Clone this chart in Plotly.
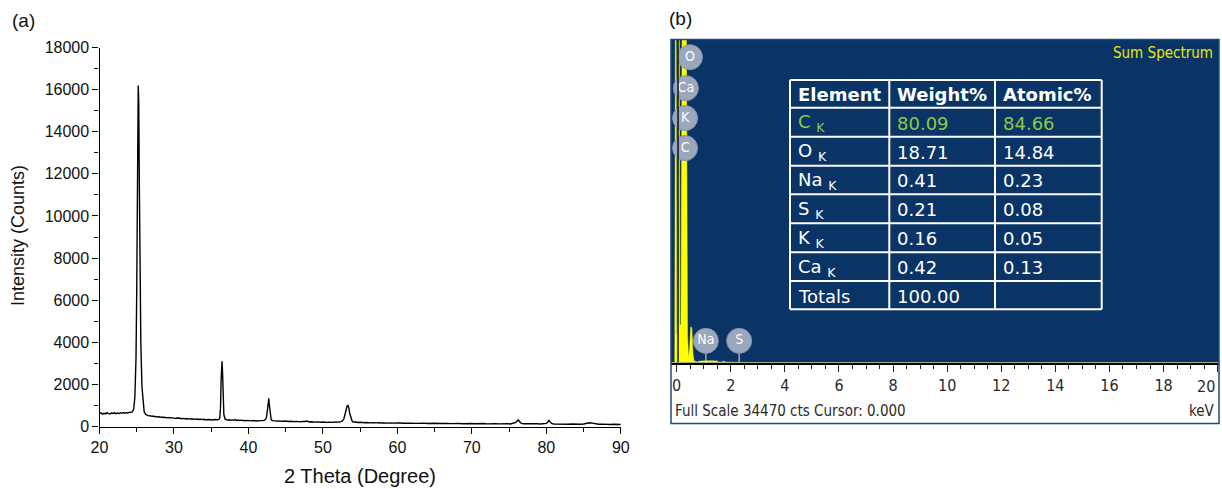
import plotly.graph_objects as go

W, H = 1222, 489

# ---------------- (a) XRD data ----------------
two_theta = [
    20.0, 20.2, 20.4, 20.6, 20.8, 21.0, 21.2, 21.4, 21.6, 21.8, 22.0, 22.2, 22.4, 22.6, 22.8, 23.0, 23.2, 23.4,
    23.6, 23.8, 24.0, 24.2, 24.4,
    24.6, 24.75, 24.9, 25.0, 25.08, 25.15, 25.2, 25.27, 25.35, 25.45, 25.55, 25.7, 25.85, 26.0, 26.2,
    26.4, 26.6, 26.8, 27.0, 27.2, 27.4, 27.6, 27.8, 28.0, 28.2, 28.4, 28.6, 28.8, 29.0, 29.2, 29.4, 29.6, 29.8,
    30.0, 30.2, 30.4, 30.6, 30.8, 31.0, 31.2, 31.4, 31.6, 31.8, 32.0, 32.2, 32.4, 32.6, 32.8, 33.0, 33.2, 33.4,
    33.6, 33.8, 34.0, 34.2, 34.4, 34.6, 34.8, 35.0, 35.2, 35.4, 35.6, 35.8, 36.0,
    36.15, 36.25, 36.33, 36.45, 36.52, 36.6, 36.7, 36.85,
    37.0, 37.2, 37.4, 37.6, 37.8, 38.0, 38.2, 38.4, 38.6, 38.8, 39.0, 39.2, 39.4, 39.6, 39.8, 40.0, 40.2, 40.4,
    40.6, 40.8, 41.0, 41.2, 41.4, 41.6, 41.8, 42.0, 42.2,
    42.4, 42.55, 42.65, 42.73, 42.8, 42.9, 43.05,
    43.2, 43.4, 43.6, 43.8, 44.0, 44.2, 44.4, 44.6, 44.8, 45.0, 45.2, 45.4, 45.6, 45.8, 46.0, 46.2, 46.4, 46.6,
    46.8, 47.0, 47.2, 47.4, 47.6, 47.8, 48.0, 48.2, 48.4, 48.6, 48.8, 49.0, 49.2, 49.4, 49.6, 49.8, 50.0, 50.2,
    50.4, 50.6, 50.8, 51.0, 51.2, 51.4, 51.6, 51.8, 52.0, 52.2, 52.4,
    52.6, 52.8, 52.95, 53.1, 53.25, 53.38, 53.48, 53.6, 53.75, 53.9, 54.0,
    54.2, 54.4, 54.6, 54.8, 55.0, 55.2, 55.4, 55.6, 55.8, 56.0, 56.2, 56.4, 56.6, 56.8, 57.0, 57.2, 57.4, 57.6,
    57.8, 58.0, 58.2, 58.4, 58.6, 58.8, 59.0, 59.2, 59.4, 59.6, 59.8, 60.0,
    60.4, 60.8, 61.2, 61.6, 62.0, 62.4, 62.8, 63.2, 63.6, 64.0, 64.4, 64.8, 65.2, 65.6, 66.0, 66.4, 66.8, 67.2,
    67.6, 68.0, 68.4, 68.8, 69.2, 69.6, 70.0, 70.4, 70.8, 71.2, 71.6, 72.0, 72.4, 72.8, 73.2, 73.6, 74.0, 74.4,
    74.8, 75.2, 75.6, 75.9, 76.1, 76.25, 76.4, 76.6, 76.9, 77.2, 77.6, 78.0, 78.4, 78.8, 79.2, 79.6, 80.0, 80.2,
    80.35, 80.5, 80.7, 81.0, 81.4, 81.8, 82.2, 82.6, 83.0, 83.4, 83.8, 84.2, 84.6, 85.0, 85.4, 85.8, 86.2, 86.6,
    87.0, 87.4, 87.8, 88.2, 88.6, 89.0, 89.4, 89.8, 90.0,
]
intensity = [
    610, 650, 590, 630, 600, 655, 615, 590, 640, 620, 660, 605, 640, 615, 650, 625, 665, 630,
    655, 640, 680, 660, 700,
    830, 1400, 3200, 6500, 10500, 14200, 16200, 15400, 11500, 7200, 4000, 1900, 1050, 700, 570,
    530, 505, 515, 480, 495, 465, 478, 450, 462, 435, 452, 425, 440, 412, 430, 405, 420, 396,
    410, 385, 402, 378, 392, 370, 386, 362, 378, 356, 372, 350, 366, 344, 360, 338, 354, 332,
    348, 326, 342, 320, 336, 316, 332, 312, 328, 310, 330, 318, 335,
    400, 900, 2200, 3100, 2600, 1200, 560, 360,
    330, 305, 320, 298, 314, 292, 330, 288, 306, 284, 300, 280, 296, 276, 292, 272, 288, 268,
    284, 266, 280, 262, 278, 268, 282, 280, 310,
    400, 780, 1250, 1340, 1050, 580, 330,
    280, 262, 276, 256, 268, 250, 264, 246, 258, 242, 254, 238, 250, 234, 246, 230, 242, 226,
    238, 222, 234, 220, 238, 262, 228, 214, 228, 210, 224, 208, 220, 206, 217, 203, 214, 200,
    212, 198, 210, 196, 210, 196, 212, 200, 216, 210, 228,
    260, 350, 530, 810, 975, 1000, 890, 630, 400, 280, 225,
    210, 195, 205, 188, 200, 183, 196, 180, 192, 177, 188, 174, 185, 172, 182, 170, 179, 167,
    176, 165, 174, 163, 172, 161, 170, 160, 168, 158, 167, 156,
    166, 154, 164, 151, 162, 149, 160, 147, 158, 145, 156, 143, 154, 141, 152, 139, 150, 137,
    148, 135, 146, 133, 144, 131, 142, 129, 140, 128, 139, 126, 137, 125, 136, 124, 135, 122,
    134, 121, 140, 190, 270, 310, 240, 155, 128, 132, 120, 130, 118, 128, 116, 126, 145, 215,
    290, 230, 148, 122, 113, 124, 110, 121, 108, 119, 106, 117, 104, 120, 148, 178, 162, 128,
    105, 114, 100, 111, 97, 107, 94, 102, 96,
]
assert len(two_theta) == len(intensity), (len(two_theta), len(intensity))

xrd_xticks = [20, 30, 40, 50, 60, 70, 80, 90]
xrd_yticks = [0, 2000, 4000, 6000, 8000, 10000, 12000, 14000, 16000, 18000]

# ---------------- (b) EDS data ----------------
eds_energy = [-0.21, -0.07, -0.05, -0.02, 0.0, 0.03, 0.05, 0.1, 0.12, 0.16, 0.2, 0.36, 0.4, 0.44, 0.48,
              0.52, 0.56, 0.6, 0.64, 0.75, 0.85, 1.04, 1.2, 1.5, 1.55, 1.7, 1.74, 1.78, 2.0, 2.31, 2.45, 20.05]
eds_counts = [0, 0, 34470, 34470, 3000, 3000, 34470, 34470, 4000, 4000, 34470, 34470, 3000, 500, 1500,
              3800, 3700, 1000, 200, 60, 150, 200, 190, 170, 50, 60, 180, 60, 40, 60, 0, 0]
assert len(eds_energy) == len(eds_counts)
full_scale = 34470
cursor_kev = 0.05
eds_xticks = [0, 2, 4, 6, 8, 10, 12, 14, 16, 18, 20]

peak_labels = ["O", "Ca", "K", "C", "Na", "S"]
peak_label_kev = [0.49, 0.34, 0.31, 0.31, 1.08, 2.31]
peak_label_counts = [32580, 29280, 26080, 22880, 2310, 2310]
peak_label_stem = [False, False, False, False, True, True]

table_elements = ["C", "O", "Na", "S", "K", "Ca"]
table_weight = ["80.09", "18.71", "0.41", "0.21", "0.16", "0.42"]
table_atomic = ["84.66", "14.84", "0.23", "0.08", "0.05", "0.13"]
table_total = "100.00"

# ---------------- helpers ----------------
def px(x):
    return x / W

def py(y):
    return 1 - y / H

DARK = "#0a3466"
NARROW = "Liberation Sans Narrow, DejaVu Sans Condensed, Arial Narrow, sans-serif"
TBLFONT = "DejaVu Sans, sans-serif"
ARIAL = "Liberation Sans, Arial, sans-serif"

fig = go.Figure()

fig.add_trace(go.Scatter(x=two_theta, y=intensity, mode="lines",
                         line=dict(color="black", width=1.4), xaxis="x", yaxis="y",
                         showlegend=False, hoverinfo="skip"))

fig.add_trace(go.Scatter(x=eds_energy, y=eds_counts, mode="lines", fill="tozeroy",
                         fillcolor="#ffff00", line=dict(color="#ffff00", width=0.5),
                         xaxis="x2", yaxis="y2", showlegend=False, hoverinfo="skip"))

fig.add_trace(go.Scatter(x=peak_label_kev, y=peak_label_counts, mode="markers+text",
                         text=peak_labels, textposition="middle center",
                         textfont=dict(family=NARROW, size=14, color="white"),
                         marker=dict(size=25, color="#9ba7bd", line=dict(width=1, color="#8893aa")),
                         xaxis="x2", yaxis="y2", showlegend=False, hoverinfo="skip"))

shapes = []
annotations = []

# panel b frame and background
box_l, box_r, box_t, plot_b, box_b = 671, 1219, 39.5, 362.5, 423.5
shapes.append(dict(type="rect", xref="paper", yref="paper", x0=px(box_l), x1=px(box_r),
                   y0=py(plot_b), y1=py(box_t), fillcolor=DARK, line=dict(width=0), layer="below"))
shapes.append(dict(type="rect", xref="paper", yref="paper", x0=px(box_l), x1=px(box_r),
                   y0=py(box_b), y1=py(box_t), fillcolor="rgba(0,0,0,0)",
                   line=dict(color="#1d4a80", width=1.5), layer="above"))

# cursor line
shapes.append(dict(type="line", xref="x2", yref="y2", x0=cursor_kev, x1=cursor_kev, y0=0, y1=full_scale,
                   line=dict(color="#111111", width=1.5), layer="above"))

# stems for labels
for k, c, s in zip(peak_label_kev, peak_label_counts, peak_label_stem):
    if s:
        shapes.append(dict(type="line", xref="x2", yref="y2", x0=k, x1=k, y0=0, y1=c,
                           line=dict(color="#9ba7bd", width=1.5), layer="below"))

# table
col_x = [790, 889.3, 995, 1101.7]
row_y = [80, 107.7, 136.7, 165.7, 194.3, 223.3, 252.3, 281, 309.3]
for xv in col_x:
    shapes.append(dict(type="line", xref="paper", yref="paper", x0=px(xv), x1=px(xv),
                       y0=py(row_y[0]), y1=py(row_y[-1]), line=dict(color="white", width=2)))
for yv in row_y:
    shapes.append(dict(type="line", xref="paper", yref="paper", x0=px(col_x[0]), x1=px(col_x[-1]),
                       y0=py(yv), y1=py(yv), line=dict(color="white", width=2)))

def cell(text, ci, ri, color="white", bold=False):
    t = f"<b>{text}</b>" if bold else text
    annotations.append(dict(x=px(col_x[ci] + 6), y=py((row_y[ri] + row_y[ri + 1]) / 2 + 1),
                            xref="paper", yref="paper", xanchor="left", yanchor="middle",
                            text=t, showarrow=False,
                            font=dict(family=TBLFONT, size=18, color=color)))

cell("Element", 0, 0, bold=True)
cell("Weight%", 1, 0, bold=True)
cell("Atomic%", 2, 0, bold=True)
for i, (e, w, a) in enumerate(zip(table_elements, table_weight, table_atomic)):
    col = "#8fc846" if i == 0 else "white"
    cell(f"{e} <sub>K</sub>", 0, i + 1, col)
    cell(w, 1, i + 1, col)
    cell(a, 2, i + 1, col)
cell("Totals", 0, 7)
cell(table_total, 1, 7)

# panel b texts
annotations.append(dict(x=px(1215), y=py(53), xref="paper", yref="paper", xanchor="right",
                        yanchor="middle", text="Sum Spectrum", showarrow=False,
                        font=dict(family=NARROW, size=15, color="#e8e800")))
annotations.append(dict(x=px(673), y=py(411), xref="paper", yref="paper", xanchor="left",
                        yanchor="middle", text=f"Full Scale {full_scale} cts Cursor: 0.000",
                        showarrow=False, font=dict(family=NARROW, size=15, color="#2a2a2a")))
annotations.append(dict(x=px(1217), y=py(411), xref="paper", yref="paper", xanchor="right",
                        yanchor="middle", text="keV", showarrow=False,
                        font=dict(family=NARROW, size=15, color="#2a2a2a")))
# last keV tick label sits flush with the frame edge, as in the reference
eds_ticktext = [str(v) for v in eds_xticks[:-1]] + [""]
annotations.append(dict(x=px(1217), y=py(386), xref="paper", yref="paper", xanchor="right",
                        yanchor="middle", text=str(eds_xticks[-1]), showarrow=False,
                        font=dict(family=NARROW, size=16, color="#2a2a2a")))

# panel labels and axis titles
annotations.append(dict(x=px(10), y=py(20), xref="paper", yref="paper", xanchor="left", yanchor="middle",
                        text="(a)", showarrow=False, font=dict(family=ARIAL, size=19, color="#111")))
annotations.append(dict(x=px(667), y=py(18), xref="paper", yref="paper", xanchor="left", yanchor="middle",
                        text="(b)", showarrow=False, font=dict(family=ARIAL, size=19, color="#111")))
annotations.append(dict(x=px(18), y=py(236), xref="paper", yref="paper", xanchor="center",
                        yanchor="middle", textangle=-90, text="Intensity (Counts)", showarrow=False,
                        font=dict(family=ARIAL, size=18, color="#111")))
annotations.append(dict(x=px(360), y=py(476), xref="paper", yref="paper", xanchor="center",
                        yanchor="middle", text="2 Theta (Degree)", showarrow=False,
                        font=dict(family=ARIAL, size=20, color="#111")))

fig.update_layout(
    template="none",
    width=W, height=H,
    margin=dict(l=0, r=0, t=0, b=0, autoexpand=False),
    paper_bgcolor="white", plot_bgcolor="rgba(0,0,0,0)",
    showlegend=False,
    shapes=shapes, annotations=annotations,
    xaxis=dict(domain=[px(99.5), px(620.8)], range=[20, 90], tickvals=xrd_xticks, tickformat="d",
               showline=True, linecolor="black", linewidth=1.3, ticks="outside", ticklen=6,
               tickwidth=1.3, tickcolor="black", minor=dict(dtick=5, ticks="outside", ticklen=4,
               tickcolor="black", tickwidth=1.2), showgrid=False, zeroline=False, automargin=False,
               tickfont=dict(family=ARIAL, size=16, color="#111"), anchor="y", fixedrange=True),
    yaxis=dict(domain=[py(426.5), py(47.5)], range=[0, 18000], tickvals=xrd_yticks, tickformat="d",
               showline=True, linecolor="black", linewidth=1.3, ticks="outside", ticklen=6,
               tickwidth=1.3, tickcolor="black", minor=dict(dtick=1000, ticks="outside", ticklen=4,
               tickcolor="black", tickwidth=1.2), showgrid=False, zeroline=False, automargin=False,
               tickfont=dict(family=ARIAL, size=16, color="#111"), anchor="x", fixedrange=True),
    xaxis2=dict(domain=[px(box_l), px(box_r)], range=[-0.21, 20.05], tickvals=eds_xticks,
                ticktext=eds_ticktext,
                showline=True, linecolor="black", linewidth=1.5, ticks="outside", ticklen=8,
                tickwidth=1.3, tickcolor="#222", minor=dict(dtick=0.5, ticks="outside", ticklen=5,
                tickcolor="#222", tickwidth=1.2), showgrid=False, zeroline=False, automargin=False,
                tickfont=dict(family=NARROW, size=16, color="#2a2a2a"), anchor="y2", fixedrange=True),
    yaxis2=dict(domain=[py(plot_b), py(box_t)], range=[0, full_scale], visible=False,
                anchor="x2", fixedrange=True, automargin=False),
)

fig.write_html("out.html", config={"displayModeBar": False},
               post_script="document.body.style.margin='0';document.body.style.overflow='hidden';")
